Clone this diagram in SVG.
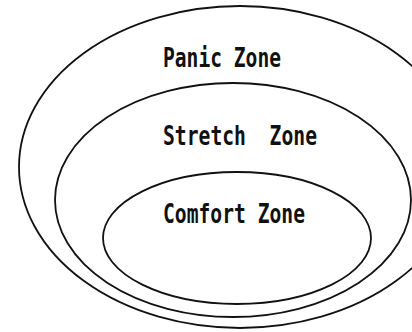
<svg xmlns="http://www.w3.org/2000/svg" width="412" height="332" viewBox="0 0 412 332">
<style>
.z{fill:none;stroke:#111;stroke-width:1.8}
.t{font-family:"DejaVu Sans Mono","Liberation Mono",monospace;font-weight:bold;font-size:26px;fill:#111}
</style>
<rect width="412" height="332" fill="#fff"/>
<g id="panic">
<ellipse class="z" cx="240" cy="167" rx="221" ry="161"/>
<text class="t" x="163" y="67" textLength="118" lengthAdjust="spacingAndGlyphs">Panic Zone</text>
</g>
<g id="stretch">
<ellipse class="z" cx="233" cy="200" rx="178" ry="117"/>
<text class="t" x="163" y="145" textLength="154" lengthAdjust="spacingAndGlyphs" xml:space="preserve">Stretch  Zone</text>
</g>
<g id="comfort">
<ellipse class="z" cx="237" cy="238" rx="134" ry="66"/>
<text class="t" x="163" y="223" textLength="142" lengthAdjust="spacingAndGlyphs">Comfort Zone</text>
</g>
<g id="connectors"/>
</svg>
